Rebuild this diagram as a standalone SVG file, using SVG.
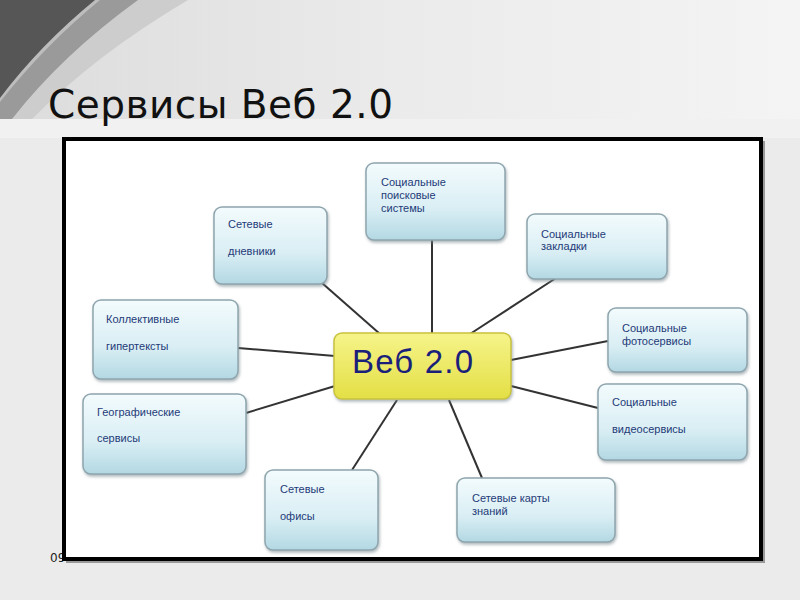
<svg xmlns="http://www.w3.org/2000/svg" width="800" height="600" viewBox="0 0 800 600">
<style>
.box{fill:url(#boxg);stroke:#8ea5ae;stroke-width:1.5;filter:url(#sh)}
.t{font-family:"Liberation Sans",Arial,sans-serif;font-size:11px;fill:#243b78}
.c line{stroke:#333;stroke-width:2}
</style>
<defs>
<linearGradient id="boxg" x1="0" y1="0" x2="0" y2="1">
<stop offset="0" stop-color="#f3fbfd"/>
<stop offset="0.6" stop-color="#d9eef4"/>
<stop offset="1" stop-color="#b3d8e3"/>
</linearGradient>
<linearGradient id="yel" x1="0" y1="0" x2="0" y2="1">
<stop offset="0" stop-color="#f6f48a"/>
<stop offset="1" stop-color="#e3df45"/>
</linearGradient>
<linearGradient id="top" x1="0" y1="0" x2="1" y2="0">
<stop offset="0" stop-color="#dcdcdc"/>
<stop offset="0.5" stop-color="#ebebeb"/>
<stop offset="1" stop-color="#f4f4f4"/>
</linearGradient>
<filter id="sh" x="-10%" y="-10%" width="125%" height="130%">
<feDropShadow dx="1" dy="2" stdDeviation="1.5" flood-color="#7a8a90" flood-opacity="0.6"/>
</filter>
</defs>
<rect width="800" height="600" fill="#ebebeb"/>
<rect width="800" height="119" fill="url(#top)"/>
<rect y="119" width="800" height="19" fill="#f1f1f1"/>
<path d="M0,0 H188 Q95,55 32,119 H0 Z" fill="#cdcdcd"/>
<path d="M0,0 H138 Q62,55 12,119 H0 Z" fill="#9a9a9a"/>
<path d="M0,0 H100 Q45,45 0,102 Z" fill="#bdbdbd"/>
<path d="M0,0 H95 Q40,45 0,98 Z" fill="#565656"/>
<text x="48" y="118" font-family="DejaVu Sans,sans-serif" font-size="39" fill="#111" textLength="345">Сервисы Веб 2.0</text>
<text x="50" y="562" font-family="DejaVu Sans,sans-serif" font-size="12" fill="#222">09.</text>
<rect x="66" y="141" width="699" height="422" fill="#999"/>
<rect x="64" y="139" width="697" height="420" fill="#fff" stroke="#000" stroke-width="4"/>
<g class="c" id="connectors">
<line x1="432" y1="333" x2="432" y2="240"/>
<line x1="380" y1="334" x2="322" y2="283"/>
<line x1="470" y1="334" x2="556" y2="278"/>
<line x1="335" y1="356" x2="238" y2="348"/>
<line x1="511" y1="360" x2="608" y2="341"/>
<line x1="335" y1="386" x2="246" y2="413"/>
<line x1="511" y1="386" x2="598" y2="408"/>
<line x1="397" y1="400" x2="352" y2="470"/>
<line x1="449" y1="400" x2="482" y2="478"/>
</g>
<g id="n1"><rect class="box" x="366" y="163" width="139" height="77" rx="8"/>
<text class="t" x="381" y="186">Социальные</text><text class="t" x="381" y="199">поисковые</text><text class="t" x="381" y="212">системы</text></g>
<g id="n2"><rect class="box" x="214" y="207" width="113" height="77" rx="8"/>
<text class="t" x="228" y="228">Сетевые</text><text class="t" x="228" y="255">дневники</text></g>
<g id="n3"><rect class="box" x="527" y="214" width="140" height="65" rx="8"/>
<text class="t" x="541" y="238">Социальные</text><text class="t" x="541" y="250">закладки</text></g>
<g id="n4"><rect class="box" x="93" y="300" width="145" height="79" rx="8"/>
<text class="t" x="106" y="323">Коллективные</text><text class="t" x="106" y="350">гипертексты</text></g>
<g id="n5"><rect class="box" x="608" y="308" width="139" height="64" rx="8"/>
<text class="t" x="622" y="332">Социальные</text><text class="t" x="622" y="345">фотосервисы</text></g>
<g id="n6"><rect class="box" x="83" y="394" width="163" height="80" rx="8"/>
<text class="t" x="97" y="416">Географические</text><text class="t" x="97" y="442">сервисы</text></g>
<g id="n7"><rect class="box" x="598" y="384" width="149" height="76" rx="8"/>
<text class="t" x="612" y="406">Социальные</text><text class="t" x="612" y="433">видеосервисы</text></g>
<g id="n8"><rect class="box" x="265" y="470" width="113" height="80" rx="8"/>
<text class="t" x="280" y="493">Сетевые</text><text class="t" x="280" y="520">офисы</text></g>
<g id="n9"><rect class="box" x="457" y="478" width="158" height="64" rx="8"/>
<text class="t" x="472" y="502">Сетевые карты</text><text class="t" x="472" y="515">знаний</text></g>
<g id="center"><rect x="334" y="333" width="177" height="66" rx="8" fill="url(#yel)" stroke="#c9c23e" stroke-width="1.5" filter="url(#sh)"/>
<text x="352" y="373" font-family="Liberation Sans,Arial,sans-serif" font-size="33" fill="#1a1f7a" textLength="121">Веб 2.0</text></g>
</svg>
